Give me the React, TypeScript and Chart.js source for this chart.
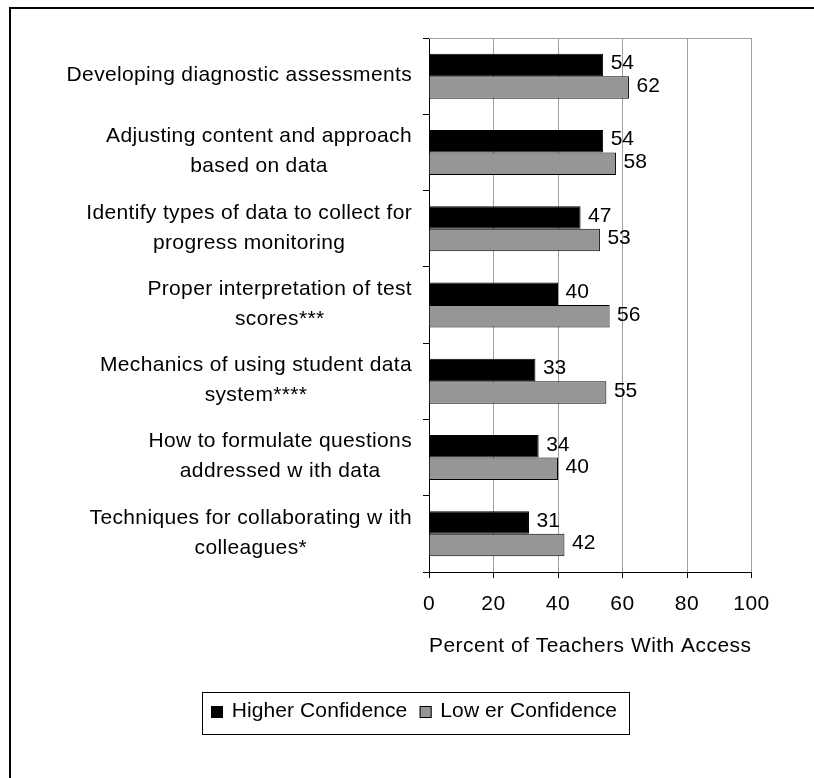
import React, { useEffect, useRef } from "react";
import { Chart, registerables } from "chart.js";

Chart.register(...registerables);

// ---- data ----
const categories: string[][] = [
  ["Developing diagnostic assessments"],
  ["Adjusting content and approach", "based on data"],
  ["Identify types of data to collect for", "progress monitoring"],
  ["Proper interpretation of test", "scores***"],
  ["Mechanics of using student data", "system****"],
  ["How to formulate questions", "addressed w ith data"],
  ["Techniques for collaborating w ith", "colleagues*"],
];
const higherConfidence = [54, 54, 47, 40, 33, 34, 31];
const lowerConfidence = [62, 58, 53, 56, 55, 40, 42];
const seriesNames = ["Higher Confidence", "Low er Confidence"];
const seriesColors = ["#000000", "#969696"];
const xTickValues = [0, 20, 40, 60, 80, 100];
const axisTitle = "Percent of Teachers With Access";

const FONT = "'Liberation Sans', Arial, sans-serif";
const FS = 21;

const spacingPlugin = {
  id: "spacing",
  beforeDraw(chart: any) {
    (chart.ctx as any).letterSpacing = "0.5px";
  },
  afterDraw(chart: any) {
    (chart.ctx as any).letterSpacing = "0px";
  },
};

const framePlugin = {
  id: "frame",
  afterDraw(chart: any) {
    const ctx = chart.ctx;
    const { chartArea } = chart;
    ctx.save();
    ctx.fillStyle = "#000";
    ctx.fillRect(9, 7, 2, chart.height - 7);
    ctx.fillRect(9, 7, chart.width - 9, 2);
    ctx.strokeStyle = "#a0a0a0";
    ctx.lineWidth = 1;
    ctx.beginPath();
    ctx.moveTo(chartArea.left, Math.round(chartArea.top) + 0.5);
    ctx.lineTo(chartArea.right, Math.round(chartArea.top) + 0.5);
    ctx.stroke();
    ctx.restore();
  },
};

const categoryLabelPlugin = {
  id: "catLabels",
  afterDraw(chart: any) {
    const ctx = chart.ctx;
    const yScale = chart.scales.y;
    const rightEdge = yScale.right - 17;
    const lh = 30;
    ctx.save();
    (ctx as any).letterSpacing = "0.35px";
    ctx.font = `${FS}px ${FONT}`;
    ctx.fillStyle = "#000";
    ctx.textAlign = "center";
    ctx.textBaseline = "middle";
    categories.forEach((lines, i) => {
      const cy = yScale.getPixelForValue(i);
      const w = Math.max(...lines.map((l) => ctx.measureText(l).width));
      const cx = rightEdge - w / 2;
      lines.forEach((line, k) => {
        const y = cy + (k - (lines.length - 1) / 2) * lh - 1;
        ctx.fillText(line, cx, y);
      });
    });
    ctx.restore();
  },
};

const valueLabelPlugin = {
  id: "valueLabels",
  afterDatasetsDraw(chart: any) {
    const ctx = chart.ctx;
    ctx.save();
    (ctx as any).letterSpacing = "0px";
    ctx.font = `${FS}px ${FONT}`;
    ctx.fillStyle = "#000";
    ctx.textAlign = "left";
    ctx.textBaseline = "middle";
    chart.data.datasets.forEach((ds: any, di: number) => {
      const meta = chart.getDatasetMeta(di);
      meta.data.forEach((bar: any, i: number) => {
        ctx.fillText(String(ds.data[i]), bar.x + 7.5, bar.y - 1.5);
      });
    });
    ctx.restore();
  },
};

const legendPlugin = {
  id: "customLegend",
  afterDraw(chart: any) {
    const ctx = chart.ctx;
    ctx.save();
    (ctx as any).letterSpacing = "0.1px";
    ctx.font = `${FS}px ${FONT}`;
    ctx.strokeStyle = "#000";
    ctx.lineWidth = 1;
    ctx.strokeRect(202.5, 692.5, 427, 42);
    let x = 211;
    const box = 12;
    const yTop = 706;
    chart.data.datasets.forEach((ds: any) => {
      ctx.fillStyle = ds.backgroundColor;
      ctx.fillRect(x, yTop, box, box);
      ctx.strokeStyle = "#000";
      ctx.strokeRect(x + 0.5, yTop + 0.5, box - 1, box - 1);
      const tx = x + box + 8.7;
      ctx.fillStyle = "#000";
      ctx.textAlign = "left";
      ctx.textBaseline = "alphabetic";
      ctx.fillText(ds.label, tx, 717);
      x = tx + ctx.measureText(ds.label).width + 12.3;
    });
    ctx.restore();
  },
};

export default function App() {
  const ref = useRef<HTMLCanvasElement | null>(null);

  useEffect(() => {
    if (!ref.current) return;
    Chart.defaults.font.family = FONT;
    Chart.defaults.font.size = FS;
    Chart.defaults.color = "#000";
    const chart = new Chart(ref.current, {
      type: "bar",
      data: {
        labels: categories as any,
        datasets: [
          {
            label: seriesNames[0],
            data: higherConfidence,
            backgroundColor: seriesColors[0],
            borderColor: "#000",
            borderWidth: 1,
            categoryPercentage: 0.59,
            barPercentage: 1,
          },
          {
            label: seriesNames[1],
            data: lowerConfidence,
            backgroundColor: seriesColors[1],
            borderColor: "#000",
            borderWidth: 1,
            categoryPercentage: 0.59,
            barPercentage: 1,
          },
        ],
      },
      options: {
        indexAxis: "y",
        responsive: false,
        animation: false,
        devicePixelRatio: 1,
        layout: { padding: { top: 38, right: 62.5, bottom: 119.4, left: 0 } },
        plugins: {
          legend: { display: false },
          tooltip: { enabled: false },
        },
        scales: {
          x: {
            type: "linear",
            position: "bottom",
            min: 0,
            max: 100,
            afterBuildTicks: (scale: any) => {
              scale.ticks = xTickValues.map((v) => ({ value: v }));
            },
            ticks: {
              font: { size: FS, family: FONT },
              color: "#000",
              padding: 14,
            },
            grid: {
              color: "#a0a0a0",
              tickColor: "#000",
              tickLength: 6,
              lineWidth: 1,
              drawOnChartArea: true,
            },
            border: { color: "#000", width: 1 },
            title: {
              display: true,
              text: axisTitle,
              font: { size: FS, family: FONT },
              color: "#000",
              padding: 0,
            },
            afterFit: (scale: any) => {
              scale.height = 86.6;
              scale.paddingLeft = 0;
              scale.paddingRight = 0;
            },
          },
          y: {
            type: "category",
            position: "left",
            offset: true,
            ticks: { display: false },
            grid: {
              offset: true,
              drawOnChartArea: false,
              drawTicks: true,
              tickLength: 6,
              color: "#000",
              tickColor: "#000",
            },
            border: { color: "#000", width: 1 },
            afterFit: (scale: any) => {
              scale.width = 429;
              scale.paddingTop = 0;
              scale.paddingBottom = 0;
            },
          },
        },
      } as any,
      plugins: [spacingPlugin, framePlugin, categoryLabelPlugin, valueLabelPlugin, legendPlugin],
    });
    return () => chart.destroy();
  }, []);

  return (
    <div>
      <canvas
        ref={ref}
        width={814}
        height={778}
        style={{ position: "absolute", left: 0, top: 0, display: "block" }}
      />
    </div>
  );
}
